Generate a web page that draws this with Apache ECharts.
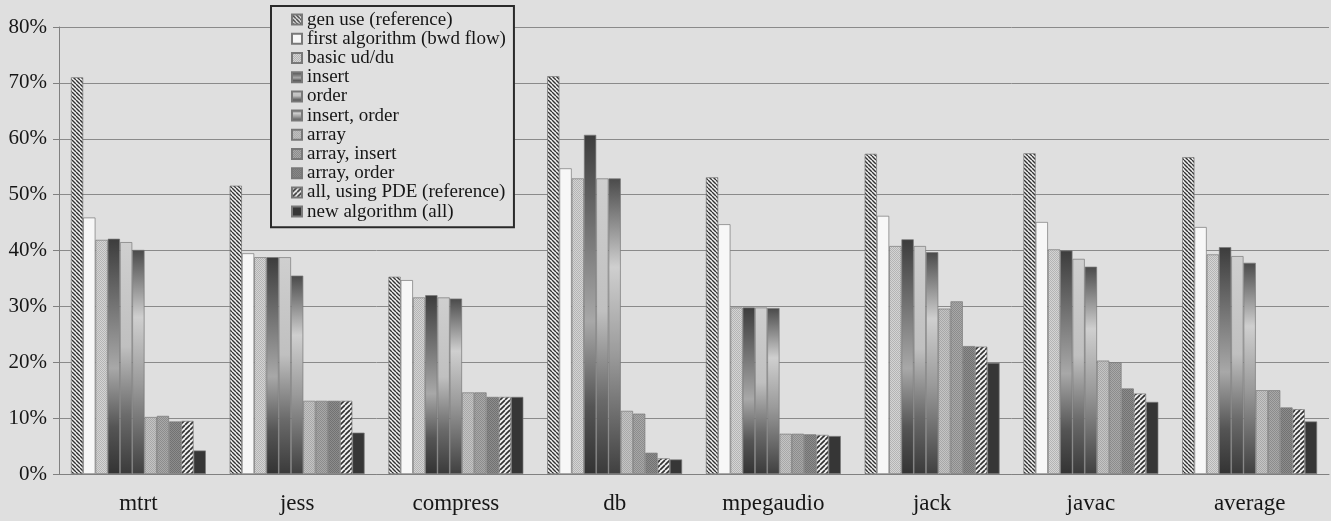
<!DOCTYPE html>
<html><head><meta charset="utf-8">
<script src="https://cdn.jsdelivr.net/npm/echarts@6/dist/echarts.min.js"></script>
<style>html,body{margin:0;padding:0;background:#dedede}#c{width:1331px;height:521px}</style>
</head><body><div id="c"></div><script>
const categories = ['mtrt', 'jess', 'compress', 'db', 'mpegaudio', 'jack', 'javac', 'average'];
const seriesNames = ['gen use (reference)', 'first algorithm (bwd flow)', 'basic ud/du', 'insert', 'order',
  'insert, order', 'array', 'array, insert', 'array, order', 'all, using PDE (reference)', 'new algorithm (all)'];
const genUse         = [71.0, 51.6, 35.3, 71.2, 53.1, 57.3, 57.4, 56.7];
const firstAlgorithm = [45.9, 39.5, 34.7, 54.7, 44.7, 46.2, 45.1, 44.2];
const basicUdDu      = [41.9, 38.8, 31.6, 52.9, 29.8, 40.8, 40.2, 39.3];
const insertVals     = [42.1, 38.8, 32.0, 60.7, 29.8, 42.0, 40.0, 40.6];
const orderVals      = [41.5, 38.8, 31.6, 52.9, 29.8, 40.8, 38.5, 39.0];
const insertOrder    = [40.1, 35.5, 31.4, 52.9, 29.7, 39.7, 37.1, 37.8];
const arrayVals      = [10.2, 13.1, 14.6, 11.3, 7.2, 29.6, 20.3, 15.0];
const arrayInsert    = [10.4, 13.1, 14.6, 10.8, 7.2, 30.9, 20.0, 15.0];
const arrayOrder     = [9.4, 13.1, 13.8, 3.8, 7.1, 22.9, 15.3, 11.9];
const allPDE         = [9.5, 13.1, 13.8, 2.8, 7.0, 22.8, 14.4, 11.6];
const newAlgorithm   = [4.2, 7.4, 13.8, 2.6, 6.8, 19.9, 12.9, 9.4];
const yTickValues    = [0, 10, 20, 30, 40, 50, 60, 70, 80];

const allData = [genUse, firstAlgorithm, basicUdDu, insertVals, orderVals, insertOrder,
  arrayVals, arrayInsert, arrayOrder, allPDE, newAlgorithm];

function hatch(back, bg, fg, size, lw) {
  const c = document.createElement('canvas'); c.width = c.height = size;
  const g = c.getContext('2d');
  g.fillStyle = bg; g.fillRect(0, 0, size, size);
  g.strokeStyle = fg; g.lineWidth = lw; g.beginPath();
  for (let k = -1; k <= 1; k++) {
    if (back) { g.moveTo(k * size, 0); g.lineTo(k * size + size, size); }
    else { g.moveTo(k * size + size, 0); g.lineTo(k * size, size); }
  }
  g.stroke();
  return { image: c, repeat: 'repeat' };
}
function dots(c1, c2) {
  const c = document.createElement('canvas'); c.width = c.height = 2;
  const g = c.getContext('2d');
  g.fillStyle = c1; g.fillRect(0, 0, 2, 2);
  g.fillStyle = c2; g.fillRect(0, 0, 1, 1); g.fillRect(1, 1, 1, 1);
  return { image: c, repeat: 'repeat' };
}
function grad(stops) {
  return { type: 'linear', x: 0, y: 0, x2: 0, y2: 1,
    colorStops: stops.map(s => ({ offset: s[0], color: s[1] })) };
}
const fills = [
  hatch(true, '#f2f2f2', '#333', 4, 1.4),
  '#f7f7f7',
  dots('#d4d4d4', '#b4b4b4'),
  grad([[0, '#3c3c3c'], [0.55, '#a8a8a8'], [0.8, '#555'], [1, '#333']]),
  grad([[0, '#cfcfcf'], [0.45, '#c0c0c0'], [0.75, '#6a6a6a'], [1, '#3a3a3a']]),
  grad([[0, '#4a4a4a'], [0.3, '#cfcfcf'], [0.6, '#9a9a9a'], [1, '#404040']]),
  dots('#c4c4c4', '#a8a8a8'),
  dots('#a8a8a8', '#8c8c8c'),
  dots('#8c8c8c', '#727272'),
  hatch(false, '#f0f0f0', '#333', 5, 1.7),
  '#363636'
];

const chart = echarts.init(document.getElementById('c'));
chart.setOption({
  animation: false,
  backgroundColor: '#dfdfdf',
  textStyle: { fontFamily: 'Liberation Serif' },
  grid: { left: 59, right: 2, top: 27, bottom: 47, containLabel: false },
  legend: {
    orient: 'vertical', left: 271, top: 6,
    itemWidth: 10, itemHeight: 10, itemGap: 0,
    padding: [4, 8, 6, 20],
    borderColor: '#2a2a2a', borderWidth: 2,
    backgroundColor: '#e0e0e0',
    icon: 'rect',
    textStyle: { fontFamily: 'Liberation Serif', fontSize: 19, color: '#161616', lineHeight: 19.2 },
    data: seriesNames
  },
  xAxis: {
    type: 'category', data: categories,
    axisLine: { lineStyle: { color: '#808080', width: 1 } },
    axisTick: { length: 6, lineStyle: { color: '#808080' } },
    axisLabel: { fontFamily: 'Liberation Serif', fontSize: 23, color: '#161616', margin: 18 }
  },
  yAxis: {
    type: 'value', min: yTickValues[0], max: yTickValues[yTickValues.length - 1], interval: 10,
    axisLine: { show: true, lineStyle: { color: '#808080' } },
    axisTick: { show: true, length: 6, lineStyle: { color: '#808080' } },
    axisLabel: { fontFamily: 'Liberation Serif', fontSize: 21, color: '#161616', margin: 12, formatter: '{value}%' },
    splitLine: { lineStyle: { color: '#8a8a8a', width: 1 } }
  },
  series: seriesNames.map((name, i) => ({
    name, type: 'bar', data: allData[i],
    barGap: '0%', barCategoryGap: '15%',
    itemStyle: { color: fills[i], borderColor: '#787878', borderWidth: 0.7 }
  }))
});
</script></body></html>
